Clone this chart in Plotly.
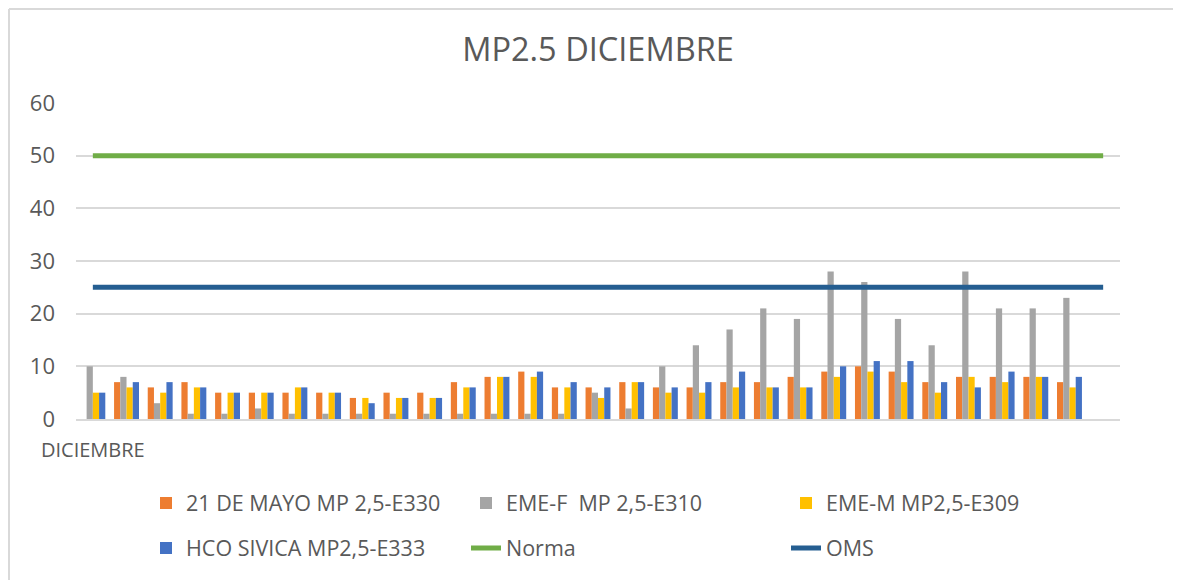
import plotly.graph_objects as go

days = list(range(1, 32))
mayo_e330 = [None, 7, 6, 7, 5, 5, 5, 5, 4, 5, 5, 7, 8, 9, 6, 6, 7, 6, 6, 7, 7, 8, 9, 10, 9, 7, 8, 8, 8, 7, None]
emef_e310 = [10, 8, 3, 1, 1, 2, 1, 1, 1, 1, 1, 1, 1, 1, 1, 5, 2, 10, 14, 17, 21, 19, 28, 26, 19, 14, 28, 21, 21, 23, None]
emem_e309 = [5, 6, 5, 6, 5, 5, 6, 5, 4, 4, 4, 6, 8, 8, 6, 4, 7, 5, 5, 6, 6, 6, 8, 9, 7, 5, 8, 7, 8, 6, None]
hco_e333 = [5, 7, 7, 6, 5, 5, 6, 5, 3, 4, 4, 6, 8, 9, 7, 6, 7, 6, 7, 9, 6, 6, 10, 11, 11, 7, 6, 9, 8, 8, None]
norma = [50] * 31
oms = [25] * 31

series_names = ["21 DE MAYO MP 2,5-E330", "EME-F  MP 2,5-E310", "EME-M MP2,5-E309", "HCO SIVICA MP2,5-E333"]
bar_colors = ["#ED7D31", "#A5A5A5", "#FFC000", "#4472C4"]
x_labels = ["DICIEMBRE"]

FONT = "Open Sans, Lato, sans-serif"
TXT = "#595959"

# the page places the figure 8px from the window's top-left corner
OFF = 8
FW, FH = 1181 - OFF, 580 - OFF
PL, PR, PT, PB = 76 - OFF, 1120 - OFF, 103 - OFF, 419 - OFF
PW, PH = PR - PL, PB - PT


def px_x(x):
    return (x - OFF - PL) / PW


def px_y(y):
    return (PB - (y - OFF)) / PH


fig = go.Figure()
for name, vals, col, lg in zip(series_names, [mayo_e330, emef_e310, emem_e309, hco_e333], bar_colors,
                               ["legend", "legend", "legend", "legend2"]):
    fig.add_trace(go.Bar(x=days, y=vals, name=name, marker=dict(color=col, line=dict(width=0)), legend=lg))

fig.add_trace(go.Scatter(x=days, y=norma, name="Norma", mode="lines",
                         line=dict(color="#70AD47", width=5), legend="legend2"))
fig.add_trace(go.Scatter(x=days, y=oms, name="OMS", mode="lines",
                         line=dict(color="#255E91", width=5), legend="legend2"))

fig.update_layout(
    width=FW, height=FH,
    margin=dict(l=PL, r=FW - PR, t=PT, b=FH - PB),
    paper_bgcolor="white", plot_bgcolor="white",
    font=dict(family=FONT, color=TXT, size=20),
    title=dict(text="MP2.5 DICIEMBRE", x=0.5, xref="paper", xanchor="center",
               y=1 - (50 - OFF) / FH, yanchor="middle", font=dict(size=32.5, color=TXT, family=FONT)),
    barmode="group", bargap=0.26, bargroupgap=0,
    xaxis=dict(range=[0.5, 31.5], tickmode="array", tickvals=[1], ticktext=x_labels,
               showgrid=False, zeroline=False, showline=True, linecolor="#D9D9D9", linewidth=2,
               ticks="", tickfont=dict(size=20, color=TXT), ticklabelstandoff=12),
    yaxis=dict(range=[0, 60], dtick=10, showgrid=True, gridcolor="#D9D9D9", gridwidth=2,
               zeroline=False, ticks="", tickfont=dict(size=22, color=TXT), ticklabelstandoff=20),
    legend=dict(orientation="h", x=px_x(146), xanchor="left", y=px_y(503), yanchor="middle",
                entrywidth=275, entrywidthmode="pixels", font=dict(size=21.5, color=TXT),
                bgcolor="rgba(0,0,0,0)", traceorder="normal"),
    legend2=dict(orientation="h", x=px_x(146), xanchor="left", y=px_y(548), yanchor="middle",
                 entrywidth=275, entrywidthmode="pixels", font=dict(size=21.5, color=TXT),
                 bgcolor="rgba(0,0,0,0)", traceorder="normal"),
    showlegend=True,
)

# chart border (left and top edges visible)
fig.add_shape(type="line", xref="paper", yref="paper",
              x0=px_x(9), x1=px_x(9), y0=px_y(9), y1=px_y(700),
              line=dict(color="#D9D9D9", width=2), layer="below")
fig.add_shape(type="line", xref="paper", yref="paper",
              x0=px_x(9), x1=px_x(1300), y0=px_y(9), y1=px_y(9),
              line=dict(color="#D9D9D9", width=2), layer="below")

fig.write_html("out.html")
